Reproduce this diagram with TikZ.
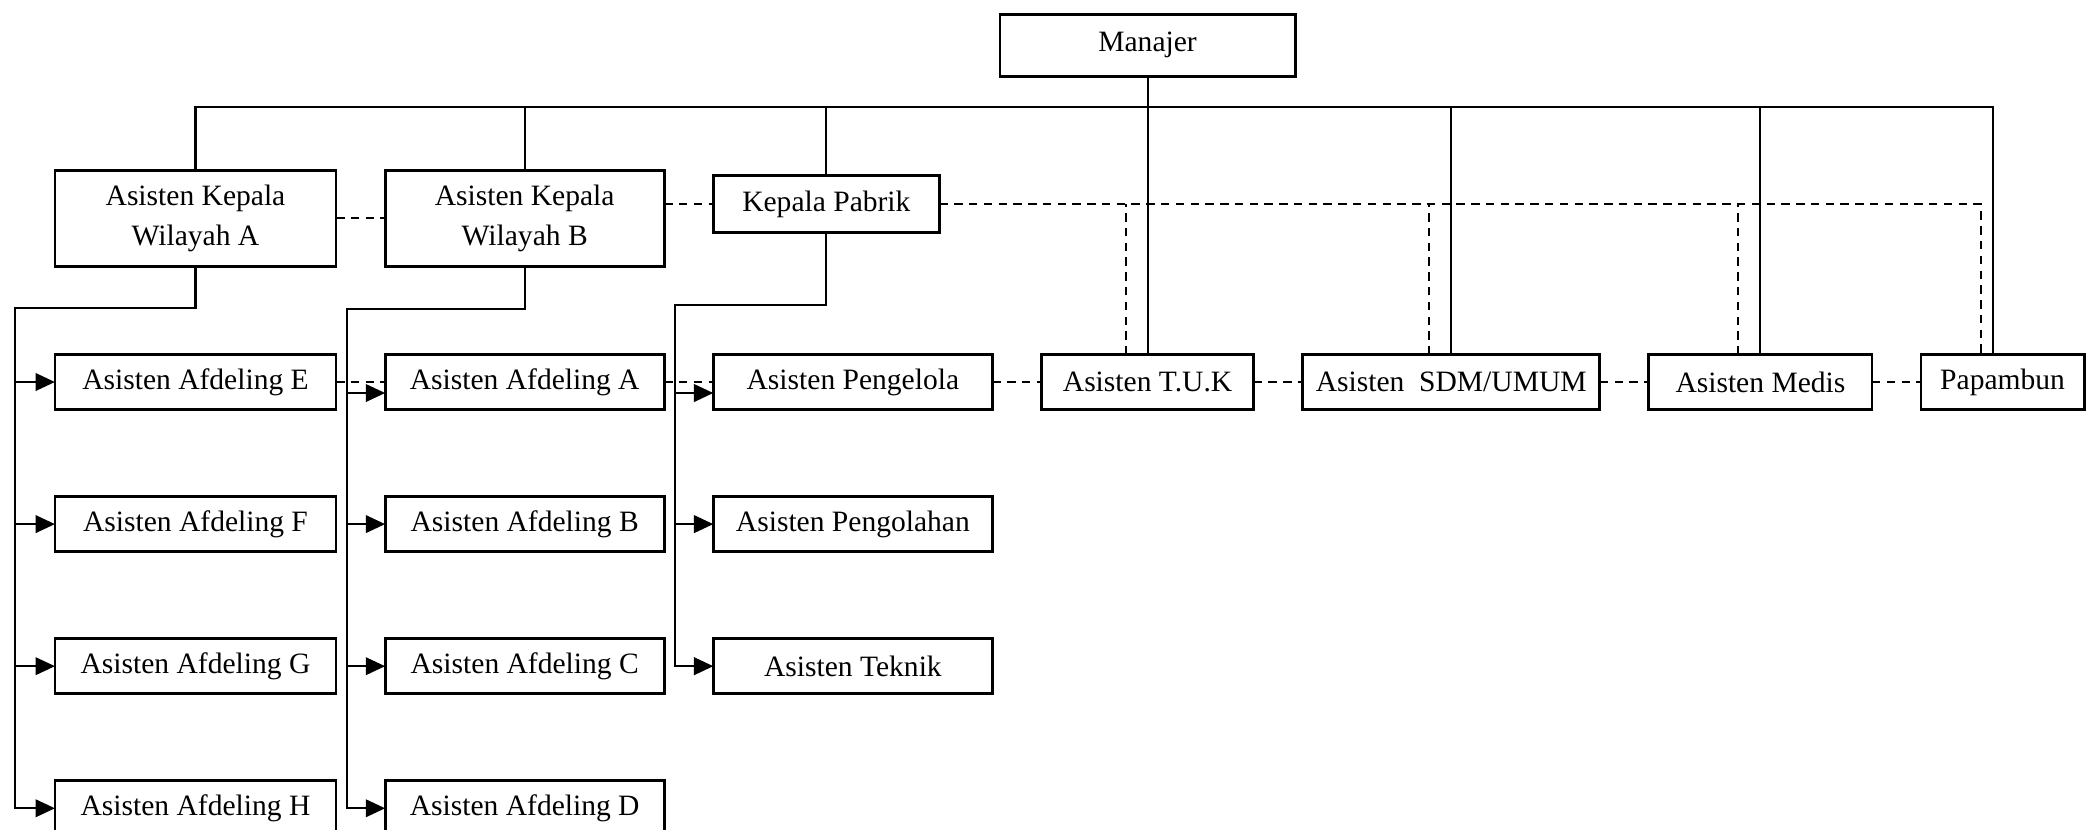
\documentclass[tikz,border=0pt]{standalone}
\usepackage{fontspec}
\setmainfont{Liberation Serif}
\usetikzlibrary{positioning,arrows.meta}

\tikzstyle{office} = [align=center,draw=black,line width=0.8pt,rectangle,text centered,font=\fontsize{8.4}{11.4}\selectfont,minimum height=0.55cm,inner sep=0pt,outer sep=0pt]
\tikzstyle{report} = [draw=black,line width=0.6pt]
\tikzstyle{liaison} = [draw=black,line width=0.6pt,dash pattern=on 2.4pt off 1.8pt]

\begin{document}
\begin{tikzpicture}[x=0.01cm,y=-0.01cm,node distance=1.42cm,>={Triangle[length=5.5pt,width=5pt]}]
	\useasboundingbox (0,0) rectangle (2086,829);
	% staff row
	\node (afdE) [office,minimum width=2.81cm] at (195.5,382) {Asisten Afdeling E};
	\node (afdA) [office,minimum width=2.79cm,right=0.49cm of afdE] {Asisten Afdeling A};
	\node (pengelola) [office,minimum width=2.79cm,right=0.49cm of afdA] {Asisten Pengelola};
	\node (tuk) [office,minimum width=2.12cm,right=0.49cm of pengelola] {Asisten T.U.K};
	\node (sdm) [office,minimum width=2.97cm,right=0.49cm of tuk] {Asisten~ SDM/UMUM};
	\node (medis) [office,minimum width=2.23cm,right=0.49cm of sdm] {Asisten Medis};
	\node (papambun) [office,minimum width=1.63cm,right=0.49cm of medis] {Papambun};
	% wilayah A
	\node (afdF) [office,minimum width=2.81cm,below of=afdE] {Asisten Afdeling F};
	\node (afdG) [office,minimum width=2.81cm,below of=afdF] {Asisten Afdeling G};
	\node (afdH) [office,minimum width=2.81cm,below of=afdG] {Asisten Afdeling H};
	% wilayah B
	\node (afdB) [office,minimum width=2.79cm,below of=afdA] {Asisten Afdeling B};
	\node (afdC) [office,minimum width=2.79cm,below of=afdB] {Asisten Afdeling C};
	\node (afdD) [office,minimum width=2.79cm,below of=afdC] {Asisten Afdeling D};
	% pabrik
	\node (pengolahan) [office,minimum width=2.79cm,below of=pengelola] {Asisten Pengolahan};
	\node (teknik) [office,minimum width=2.79cm,below of=pengolahan] {Asisten Teknik};
	% heads
	\node (wilA) [office,minimum width=2.81cm,minimum height=0.96cm,above=0.88cm of afdE] {Asisten Kepala\\Wilayah A};
	\node (wilB) [office,minimum width=2.79cm,minimum height=0.96cm,above=0.88cm of afdA] {Asisten Kepala\\Wilayah B};
	\node (pabrik) [office,minimum width=2.26cm,minimum height=0.57cm,above right=1.22cm and 0cm of pengelola.north west] {Kepala Pabrik};
	\node (manajer) [office,minimum width=2.95cm,minimum height=0.62cm,above=2.78cm of tuk] {Manajer};
	% helper points
	\coordinate (bus) at (0,107);
	\coordinate (c1) at (15,308);
	\coordinate (c2) at (347,309);
	\coordinate (c3) at (675,305);
	\coordinate (afdA-in) at ([yshift=-0.11cm]afdA.west);
	\coordinate (pengelola-in) at ([yshift=-0.11cm]pengelola.west);
	\coordinate (papambun-top) at ([xshift=-0.1cm]papambun.north);
	\foreach \n in {tuk,sdm,medis,papambun}
		\coordinate (\n-drop) at ([xshift=-0.22cm]\n.north);
	% command lines
	\draw [report] (manajer.south) -- (tuk.north);
	\draw [report] (wilA.north) |- (bus -| papambun-top) -- (papambun-top);
	\foreach \n in {wilB,pabrik,sdm,medis}
		\draw [report] (\n.north) -- (\n.north |- bus);
	\draw [report,->] (wilA.south) |- (c1) |- (afdH.west);
	\foreach \n in {afdE,afdF,afdG}
		\draw [report,->] (c1 |- \n.west) -- (\n.west);
	\draw [report,->] (wilB.south) |- (c2) |- (afdD.west);
	\draw [report,->] (c2 |- afdA-in) -- (afdA-in);
	\foreach \n in {afdB,afdC}
		\draw [report,->] (c2 |- \n.west) -- (\n.west);
	\draw [report,->] (pabrik.south) |- (c3) |- (teknik.west);
	\draw [report,->] (c3 |- pengelola-in) -- (pengelola-in);
	\draw [report,->] (c3 |- pengolahan.west) -- (pengolahan.west);
	% coordination lines
	\draw [liaison] (wilA.east) -- (wilB.west);
	\draw [liaison] (wilB.east |- pabrik) -- (pabrik.west);
	\draw [liaison] (pabrik.east) -| (papambun-drop);
	\foreach \n in {tuk,sdm,medis}
		\draw [liaison] (\n-drop) -- (\n-drop |- pabrik.east);
	\draw [liaison] (afdE.east) -- (afdA.west);
	\draw [liaison] (afdA.east) -- (pengelola.west);
	\draw [liaison] (pengelola.east) -- (tuk.west);
	\draw [liaison] (tuk.east) -- (sdm.west);
	\draw [liaison] (sdm.east) -- (medis.west);
	\draw [liaison] (medis.east) -- (papambun.west);
\end{tikzpicture}
\end{document}
